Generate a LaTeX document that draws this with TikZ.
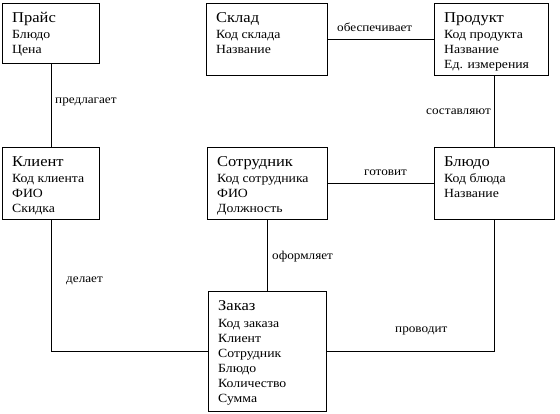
\documentclass[tikz,border=0pt]{standalone}
\usepackage{fontspec}
\setmainfont{Liberation Serif}[FakeStretch=1.1]
\tikzset{
  ebox/.style={draw, line width=1pt, anchor=north west, inner sep=0pt},
  etitle/.style={anchor=base west, inner sep=0pt, font=\fontsize{15}{17}\selectfont},
  eattr/.style={anchor=base west, inner sep=0pt, font=\fontsize{12.5}{14}\selectfont},
  rel/.style={anchor=base west, inner sep=0pt, font=\fontsize{12}{14}\selectfont},
  conn/.style={line width=1pt}
}
\newcommand\entity[7]{%
  \node[ebox, minimum width=#4pt, minimum height=#5pt] (#1) at (#2,#3) {};
  \begin{scope}
    \clip (#1.north west) rectangle ([yshift=4pt]#1.south east);
    \node[etitle] (#1-t) at ([xshift=10pt,yshift=-20pt]#1.north west) {#6};
    \foreach \a [count=\i] in {#7} {
      \node[eattr] (#1-\i) at ([xshift=10pt,yshift={-(21+15*\i)*1pt}]#1.north west) {\a};
    }
  \end{scope}
}
\begin{document}
\begin{tikzpicture}[x=1pt,y=-1pt]
\useasboundingbox[fill=white] (0,0) rectangle (560,414);
\entity{prais}{2}{3}{97}{60}{Прайс}{Блюдо,Цена}
\entity{sklad}{206}{3}{121}{72}{Склад}{Код склада,Название}
\entity{produkt}{434}{3}{114}{72}{Продукт}{Код продукта,Название,Ед. измерения}
\entity{klient}{2}{147}{97}{72}{Клиент}{Код клиента,ФИО,Скидка}
\entity{sotr}{207}{147}{120}{72}{Сотрудник}{Код сотрудника,ФИО,Должность}
\entity{blyudo}{434}{147}{120}{72}{Блюдо}{Код блюда,Название}
\entity{zakaz}{208}{291}{118}{120}{Заказ}{Код заказа,Клиент,Сотрудник,Блюдо,Количество,Сумма}

\draw[conn] (prais.south) -- (klient.north);
\draw[conn] (sklad.east) -- (produkt.west);
\draw[conn] (blyudo.north) -- (blyudo.north |- produkt.south);
\draw[conn] (sotr.east) -- (blyudo.west);
\draw[conn] (sotr.south) -- (zakaz.north);
\draw[conn] (klient.south) |- (zakaz.west);
\draw[conn] (blyudo.south) |- (zakaz.east);

\node[rel] (l1) at (55,104) {предлагает};
\node[rel] (l2) at (337,32) {обеспечивает};
\node[rel] (l3) at (426,115) {составляют};
\node[rel] (l4) at (364,176) {готовит};
\node[rel] (l5) at (272,260) {оформляет};
\node[rel] (l6) at (66,283) {делает};
\node[rel] (l7) at (395,332) {проводит};
\end{tikzpicture}
\end{document}
